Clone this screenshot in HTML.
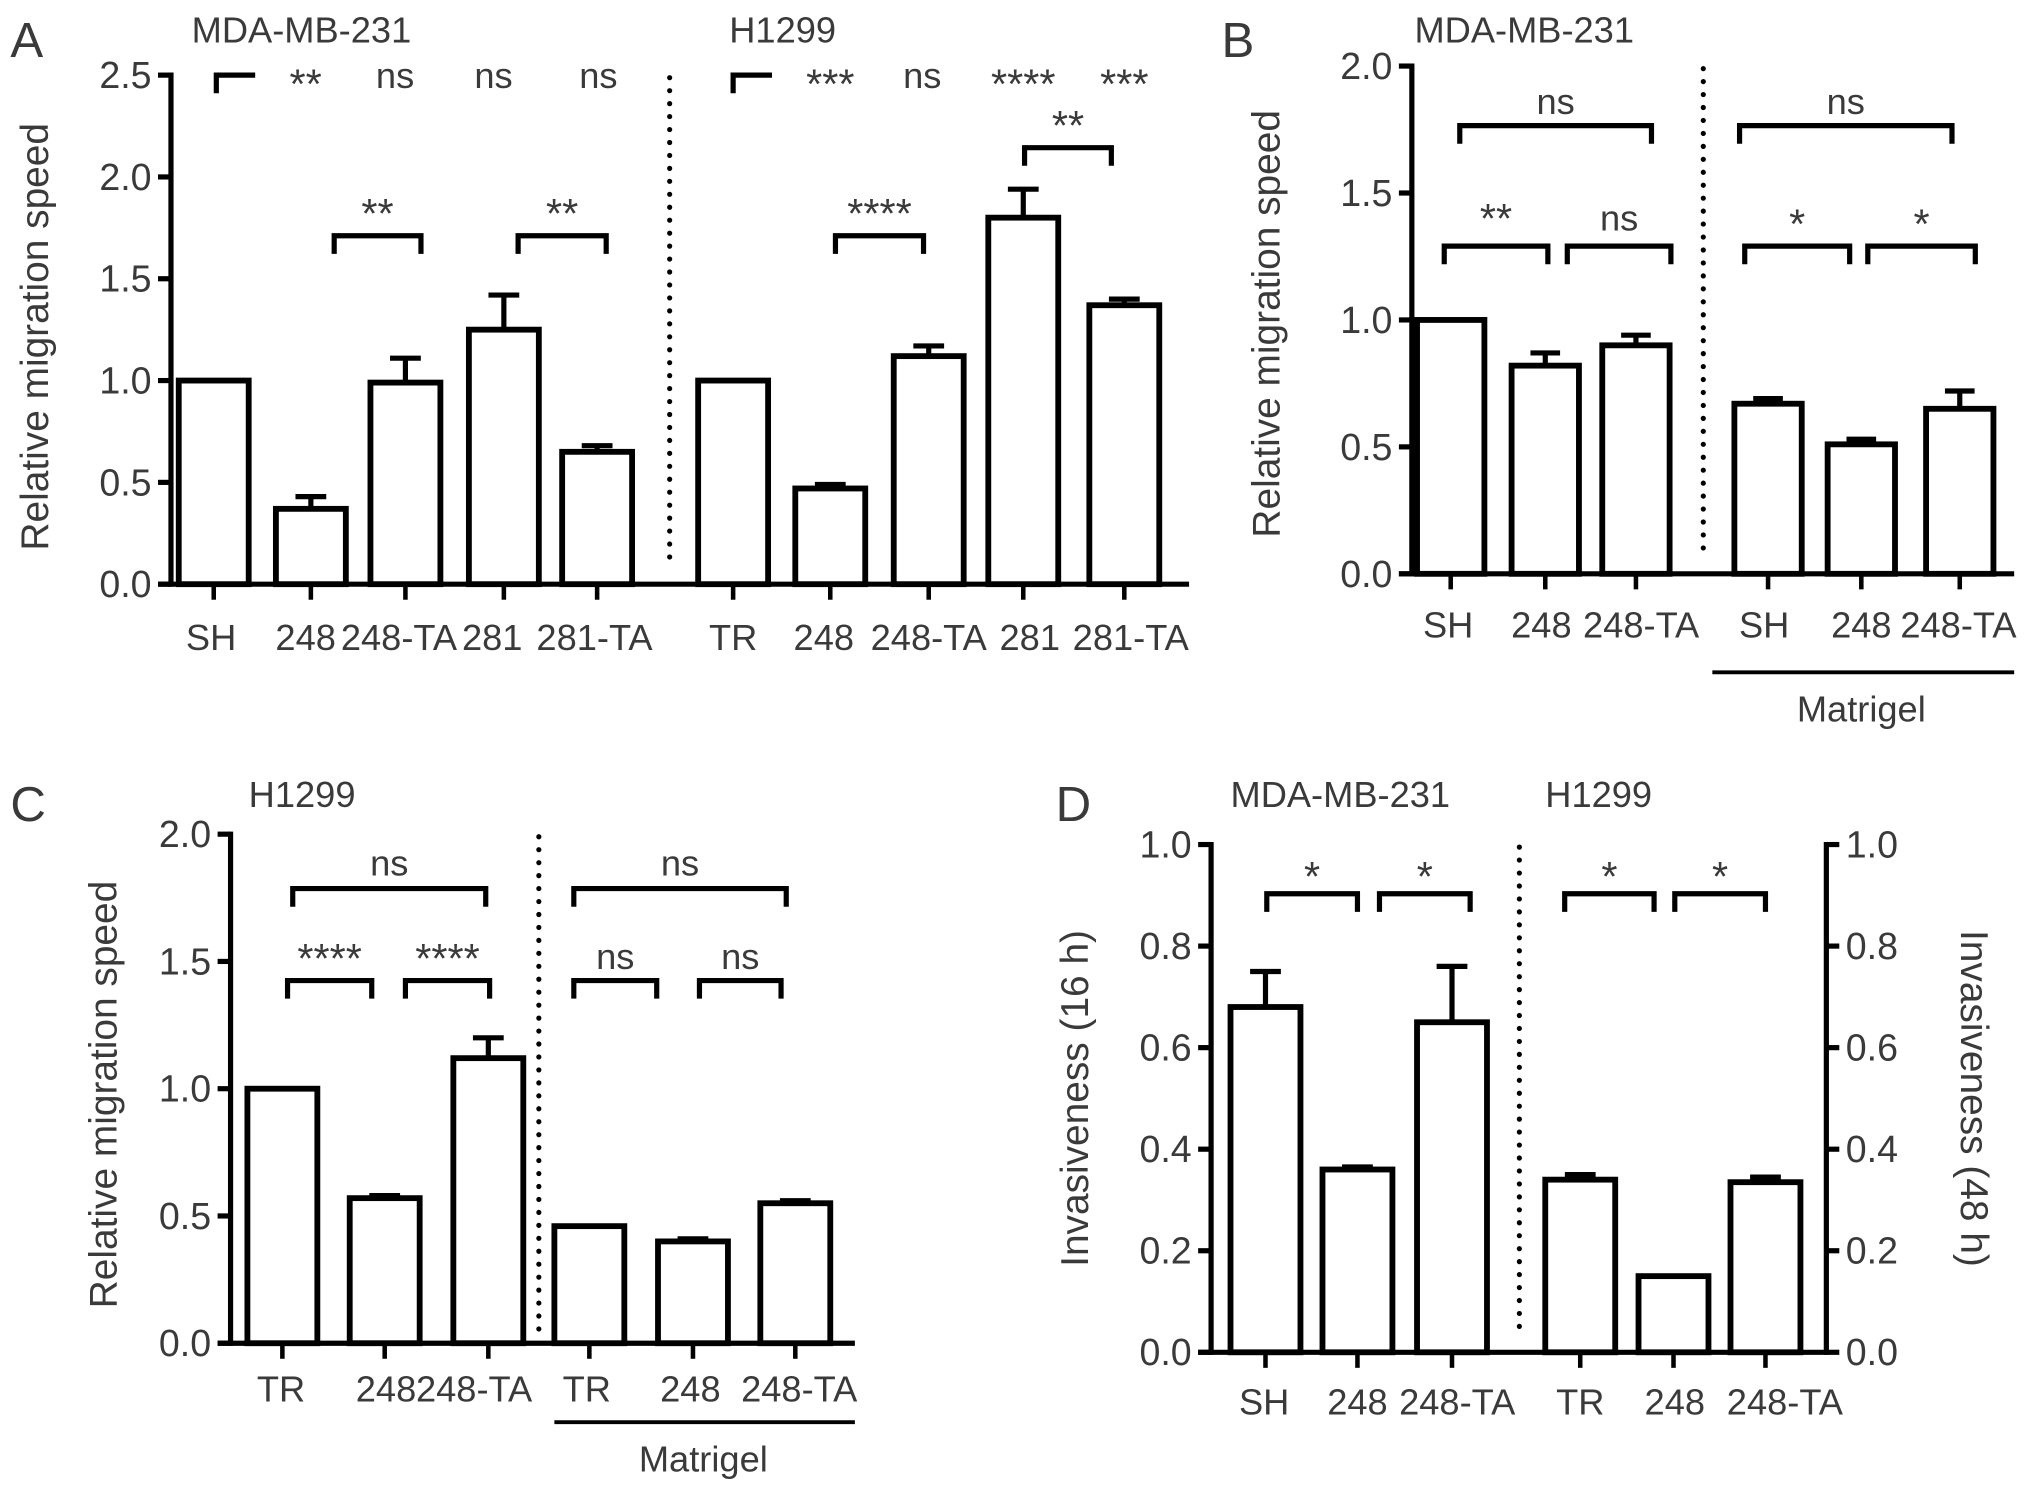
<!DOCTYPE html>
<html><head><meta charset="utf-8"><style>
html,body{margin:0;padding:0;background:#fff;}
svg{display:block;}
text{font-family:"Liberation Sans",sans-serif;fill:#3a3a3a;}
</style></head><body>
<svg id="fig" width="2031" height="1494" viewBox="0 0 1568 1153.4" preserveAspectRatio="none" xmlns="http://www.w3.org/2000/svg"></svg>
<script>
// Panel A data
const aCats = ["SH","248","248-TA","281","281-TA","TR","248","248-TA","281","281-TA"];
const aVals = [1.0,0.37,0.99,1.25,0.65,1.0,0.47,1.12,1.80,1.37];
const aErrs = [0,0.06,0.12,0.17,0.03,0,0.02,0.05,0.14,0.03];
const aTicks = ["0.0","0.5","1.0","1.5","2.0","2.5"];
// Panel B data
const bCats = ["SH","248","248-TA","SH","248","248-TA"];
const bVals = [1.0,0.82,0.90,0.67,0.51,0.65];
const bErrs = [0,0.05,0.04,0.02,0.02,0.07];
const bTicks = ["0.0","0.5","1.0","1.5","2.0"];
// Panel C data
const cCats = ["TR","248","248-TA","TR","248","248-TA"];
const cVals = [1.0,0.57,1.12,0.46,0.40,0.55];
const cErrs = [0,0.01,0.08,0,0.01,0.01];
const cTicks = ["0.0","0.5","1.0","1.5","2.0"];
// Panel D data
const dCats = ["SH","248","248-TA","TR","248","248-TA"];
const dVals = [0.68,0.36,0.65,0.34,0.15,0.335];
const dErrs = [0.07,0.005,0.11,0.01,0,0.01];
const dTicks = ["0.0","0.2","0.4","0.6","0.8","1.0"];

const svg=document.getElementById('fig');
const NS='http://www.w3.org/2000/svg';
function el(tag,attrs,parent){const e=document.createElementNS(NS,tag);for(const k in attrs)e.setAttribute(k,attrs[k]);(parent||svg).appendChild(e);return e;}
function txt(s,x,y,size,anchor,parent,rot){const t=el('text',{x:x,y:y,'font-size':size,'text-anchor':anchor||'middle'},parent);if(rot)t.setAttribute('transform','rotate('+rot+' '+x+' '+y+')');t.textContent=s;return t;}

function panel(o){
  const g=el('g',{});
  
  
  const y=v=>o.y0-(v-o.vmin)/(o.vmax-o.vmin)*(o.y0-o.y1);
  const ax=el('line',{x1:o.ax,y1:o.y1-2,x2:o.ax,y2:o.y0+2,stroke:'#000','stroke-width':4},g);
  
  
  const xa=el('line',{x1:o.ax-10,y1:o.y0,x2:o.xend,y2:o.y0,stroke:'#000','stroke-width':4},g);
  
  
  o.ticks.forEach(t=>{
    const yy=y(parseFloat(t));
    el('line',{x1:o.ax-10,y1:yy,x2:o.ax,y2:yy,stroke:'#000','stroke-width':4},g);
    const tl=txt(t,o.ax-15,yy+10,29,'end',g);
    
    
  });
  if(o.rax){
    el('line',{x1:o.rax,y1:o.y1-2,x2:o.rax,y2:o.y0+2,stroke:'#000','stroke-width':4},g);
    o.ticks.forEach(t=>{
      const yy=y(parseFloat(t));
      el('line',{x1:o.rax,y1:yy,x2:o.rax+10,y2:yy,stroke:'#000','stroke-width':4},g);
      const tl=txt(t,o.rax+15,yy+10,29,'start',g);
      
      
    });
  }
  o.cats.forEach((c,i)=>{
    const cx=o.xs[i],v=o.vals[i],e=o.errs[i],w=o.bw;
    if(e>0){
      const el1=el('line',{x1:cx,y1:y(v),x2:cx,y2:y(v+e),stroke:'#000','stroke-width':4},g);
      
      
      el('line',{x1:cx-w*0.22,y1:y(v+e),x2:cx+w*0.22,y2:y(v+e),stroke:'#000','stroke-width':4},g);
    }
    const r=el('rect',{x:cx-w/2,y:y(v),width:w,height:o.y0-y(v),fill:'#fff',stroke:'#000','stroke-width':4.5},g);
    
    
    el('line',{x1:cx,y1:o.y0,x2:cx,y2:o.y0+12,stroke:'#000','stroke-width':3.5},g);
    const l=txt(c,o.lx[i],o.ly,28,'middle',g);
    
    
  });
  return g;
}
function sz(label){return label.indexOf('*')>=0?32:28;}
function bracket(x1,x2,yy,label,ly){
  const p=el('path',{d:'M'+x1+' '+(yy+14)+' V'+yy+' H'+x2+' V'+(yy+14),fill:'none',stroke:'#000','stroke-width':4});
  
  
  const t=txt(label,(x1+x2)/2,ly+(label.indexOf('*')>=0?8:0),sz(label),'middle');
  
  
}
function sig(label,x,yy){const t=txt(label,x,yy+(label.indexOf('*')>=0?8:0),sz(label),'middle');}
function dotted(x,y1,y2){const l=el('line',{x1:x,y1:y1,x2:x,y2:y2,stroke:'#000','stroke-width':4,'stroke-dasharray':'0 10','stroke-linecap':'round'});}
function label(s,x,yy,size,anchor,rot,name){const t=txt(s,x,yy,size,anchor,null,rot);}

// Panel A
panel({name:'panel-a',ax:132,y0:451,y1:58,vmin:0,vmax:2.5,xend:918,ticks:aTicks,cats:aCats,vals:aVals,errs:aErrs,bw:54,
 xs:[165,240,313,389,461,566,641,717,790,868],lx:[163,236,308,380,459,566,636,717,795,873],ly:502});
label('A',8,44,38,'start',0,'panel-letter-a');
label('MDA-MB-231',148,33,28,'start',0,'panel-a-title-mda');
label('H1299',563,33,28,'start',0,'panel-a-title-h1299');
label('Relative migration speed',37,260,30,'middle',-90,'y-axis-title');
dotted(517,60,440);
el('path',{d:'M167 72 V58 H197',fill:'none',stroke:'#000','stroke-width':4});
el('path',{d:'M566 72 V58 H596',fill:'none',stroke:'#000','stroke-width':4});
sig('**',236,68);sig('ns',305,68);sig('ns',381,68);sig('ns',462,68);
sig('***',641,68);sig('ns',712,68);sig('****',790,68);sig('***',868,68);
bracket(258,325,182,'**',168);bracket(400,468,182,'**',168);
bracket(645,713,182,'****',168);bracket(791,858,114,'**',100);

// Panel B
panel({name:'panel-b',ax:1090,y0:443,y1:51,vmin:0,vmax:2.0,xend:1555,ticks:bTicks,cats:bCats,vals:bVals,errs:bErrs,bw:52,
 xs:[1120,1193,1263,1365,1437,1513],lx:[1118,1190,1267,1362,1437,1512],ly:492});
label('B',943,44,38,'start',0,'panel-letter-b');
label('MDA-MB-231',1092,33,28,'start',0,'panel-b-title');
label('Relative migration speed',988,250,30,'middle',-90,'y-axis-title');
dotted(1315,53,432);
bracket(1127,1275,97,'ns',88);bracket(1115,1195,190,'**',172);bracket(1210,1290,190,'ns',178);
bracket(1343,1507,97,'ns',88);bracket(1347,1428,190,'*',176);bracket(1442,1525,190,'*',176);
el('line',{x1:1322,y1:519,x2:1555,y2:519,stroke:'#000','stroke-width':3});
label('Matrigel',1437,557,28,'middle',0,'matrigel-label');

// Panel C
panel({name:'panel-c',ax:178,y0:1037,y1:644,vmin:0,vmax:2.0,xend:660,ticks:cTicks,cats:cCats,vals:cVals,errs:cErrs,bw:54,
 xs:[218,297,377,455,535,614],lx:[217,298,366,453,533,617],ly:1082});
label('C',8,634,38,'start',0,'panel-letter-c');
label('H1299',192,623,28,'start',0,'panel-c-title');
label('Relative migration speed',90,845,30,'middle',-90,'y-axis-title');
dotted(416,646,1028);
bracket(226,375,686,'ns',676);bracket(222,287,757,'****',743);bracket(313,378,757,'****',743);
bracket(443,607,686,'ns',676);bracket(443,507,757,'ns',748);bracket(540,603,757,'ns',748);
el('line',{x1:428,y1:1098,x2:660,y2:1098,stroke:'#000','stroke-width':3});
label('Matrigel',543,1136,28,'middle',0,'matrigel-label');

// Panel D
panel({name:'panel-d',ax:935,y0:1044,y1:652,vmin:0,vmax:1.0,xend:1410,rax:1410,ticks:dTicks,cats:dCats,vals:dVals,errs:dErrs,bw:54,
 xs:[977,1048,1121,1220,1292,1363],lx:[976,1048,1125,1220,1293,1378],ly:1092});
label('D',815,634,38,'start',0,'panel-letter-d');
label('MDA-MB-231',950,623,28,'start',0,'panel-d-title-mda');
label('H1299',1193,623,28,'start',0,'panel-d-title-h1299');
label('Invasiveness (16 h)',840,848,30,'middle',-90,'y-axis-title-left');
label('Invasiveness (48 h)',1514,848,30,'middle',90,'y-axis-title-right');
dotted(1173,654,1033);
bracket(978,1048,690,'*',680);bracket(1065,1135,690,'*',680);
bracket(1208,1277,690,'*',680);bracket(1293,1363,690,'*',680);
</script>
</body></html>
